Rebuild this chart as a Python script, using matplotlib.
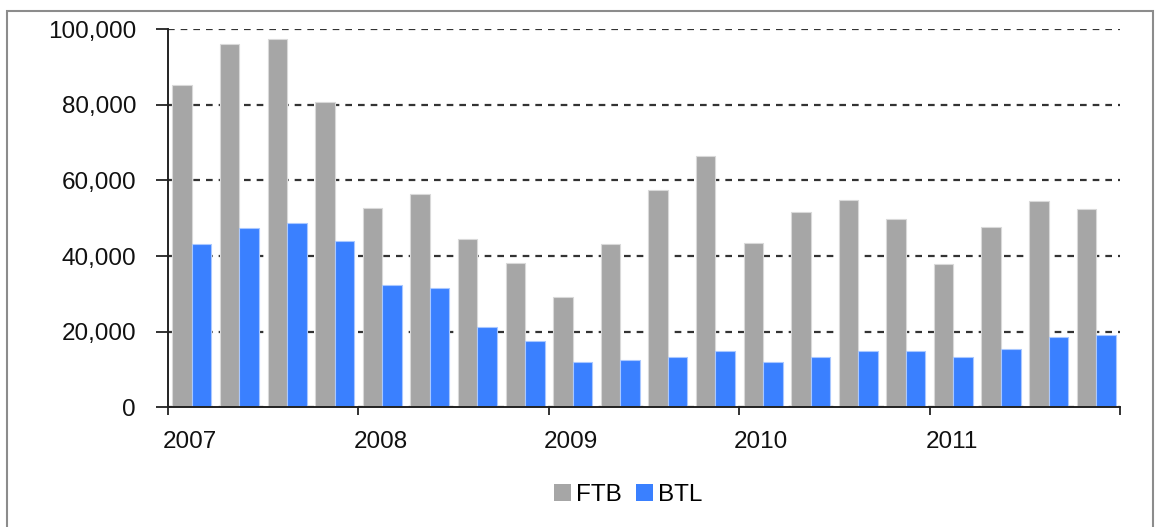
import matplotlib.pyplot as plt
import numpy as np
from matplotlib.patches import Rectangle, Patch

plt.rcParams['font.family'] = ['Liberation Sans', 'DejaVu Sans']

# quarterly approvals, 2007 Q1 .. 2011 Q4
quarters = ['2007Q1', '2007Q2', '2007Q3', '2007Q4',
            '2008Q1', '2008Q2', '2008Q3', '2008Q4',
            '2009Q1', '2009Q2', '2009Q3', '2009Q4',
            '2010Q1', '2010Q2', '2010Q3', '2010Q4',
            '2011Q1', '2011Q2', '2011Q3', '2011Q4']
ftb = [85100, 96100, 97400, 80800,
       52600, 56400, 44500, 38300,
       29200, 43100, 57400, 66500,
       43500, 51700, 54900, 49700,
       37800, 47800, 54500, 52500]
btl = [43100, 47300, 48800, 44000,
       32500, 31600, 21200, 17700,
       12100, 12500, 13400, 14900,
       12100, 13400, 14900, 14900,
       13400, 15400, 18700, 19100]
years = ['2007', '2008', '2009', '2010', '2011']

grey = '#a6a6a6'
blue = '#3a80ff'
fs = 17.5

fig = plt.figure(figsize=(11.55, 5.27), dpi=100)
ax = fig.add_axes([0.1455, 0.2268, 0.8242, 0.718])

x = np.arange(len(quarters))
w = 0.41
ax.bar(x - w / 2, ftb, w, color=grey, edgecolor='#d9d9d9', linewidth=0.8, label='FTB')
ax.bar(x + w / 2, btl, w, color=blue, edgecolor='#a9c8ff', linewidth=0.8, label='BTL')

ax.set_xlim(-0.5, len(quarters) - 0.5)
ax.set_ylim(0, 100000)
ax.set_yticks(np.arange(0, 100001, 20000))
ax.set_yticklabels(['{:,.0f}'.format(v) for v in ax.get_yticks()])

# year boundaries get tick marks, labels sit just right of them
bounds = np.arange(-0.5, len(quarters), 4)
ax.set_xticks(bounds)
ax.set_xticklabels([])
ax.set_xticks(bounds[:-1] + 0.46, minor=True)
ax.set_xticklabels(years, minor=True)
ax.tick_params(axis='x', which='major', length=6, width=1.3, color='#222222', direction='out')
ax.tick_params(axis='x', which='minor', length=0, pad=17, labelsize=fs, labelcolor='#111111')
ax.tick_params(axis='y', length=9, width=1.3, color='#222222', pad=14,
               labelsize=fs, labelcolor='#111111')

ax.set_axisbelow(True)
ax.yaxis.grid(True, color='#333333', linewidth=1.6, linestyle=(0, (3.0, 2.7)))
for s in ['top', 'right']:
    ax.spines[s].set_visible(False)
for s in ['left', 'bottom']:
    ax.spines[s].set_color('#222222')
    ax.spines[s].set_linewidth(1.4)

handles = [Patch(facecolor=grey, edgecolor='none'), Patch(facecolor=blue, edgecolor='none')]
fig.legend(handles, ['FTB', 'BTL'], loc='center', bbox_to_anchor=(0.544, 0.06),
           ncol=2, frameon=False, fontsize=fs, handlelength=0.7, handleheight=0.7,
           handletextpad=0.2, columnspacing=0.6)

# outer frame of the chart
fig.patches.append(Rectangle((0.006, -0.05), 0.992, 1.03, transform=fig.transFigure,
                             fill=False, edgecolor='#8c8c8c', linewidth=1.5))

fig.savefig('out.png', dpi=100)
